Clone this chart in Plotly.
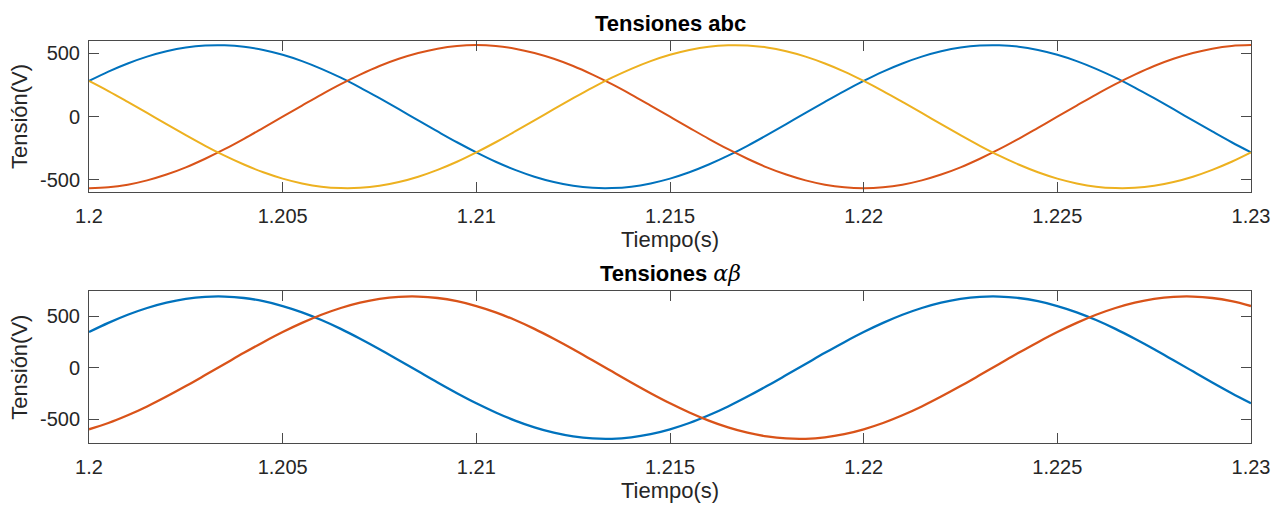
import plotly.graph_objects as go

# time samples (s), every 0.5 ms from 1.2 to 1.23
t = [round(1.2 + 0.0005 * k, 4) for k in range(61)]

# Tensiones abc (V)
va = [282, 356, 420, 474, 516, 546, 562, 564, 553, 527, 489, 439, 378, 308, 230, 146, 59, -30, -117, -202,
      -282, -356, -420, -474, -516, -546, -562, -564, -553, -527, -489, -439, -378, -308, -230, -146, -59, 30, 117, 202,
      282, 356, 420, 474, 516, 546, 562, 564, 553, 527, 489, 439, 378, 308, 230, 146, 59, -30, -117, -202, -282]
vb = [-565, -558, -537, -503, -457, -400, -332, -257, -175, -88,
      0, 88, 175, 257, 332, 400, 457, 503, 537, 558,
      565, 558, 537, 503, 457, 400, 332, 257, 175, 88,
      0, -88, -175, -257, -332, -400, -457, -503, -537, -558,
      -565, -558, -537, -503, -457, -400, -332, -257, -175, -88,
      0, 88, 175, 257, 332, 400, 457, 503, 537, 558, 565]
vc = [282, 202, 117, 30, -59, -146, -230, -308, -378, -439, -489, -527, -553, -564, -562, -546, -516, -474, -420, -356,
      -282, -202, -117, -30, 59, 146, 230, 308, 378, 439, 489, 527, 553, 564, 562, 546, 516, 474, 420, 356,
      282, 202, 117, 30, -59, -146, -230, -308, -378, -439, -489, -527, -553, -564, -562, -546, -516, -474, -420, -356, -282]

# Tensiones alpha-beta (V)
valpha = [346, 435, 514, 580, 632, 668, 688, 691, 677, 646, 599, 538, 463, 377, 281, 179, 72, -36, -144, -248,
          -346, -435, -514, -580, -632, -668, -688, -691, -677, -646, -599, -538, -463, -377, -281, -179, -72, 36, 144, 248,
          346, 435, 514, 580, 632, 668, 688, 691, 677, 646, 599, 538, 463, 377, 281, 179, 72, -36, -144, -248, -346]
vbeta = [-599, -538, -463, -377, -281, -179, -72, 36, 144, 248,
         346, 435, 514, 580, 632, 668, 688, 691, 677, 646, 599, 538, 463, 377, 281, 179, 72, -36, -144, -248,
         -346, -435, -514, -580, -632, -668, -688, -691, -677, -646, -599, -538, -463, -377, -281, -179, -72, 36, 144, 248,
         346, 435, 514, 580, 632, 668, 688, 691, 677, 646, 599]

xticks = [1.2, 1.205, 1.21, 1.215, 1.22, 1.225, 1.23]
xticktext = ["1.2", "1.205", "1.21", "1.215", "1.22", "1.225", "1.23"]
yticks = [-500, 0, 500]
yticktext = ["-500", "0", "500"]

C1, C2, C3 = "#0072BD", "#D95319", "#EDB120"
FONT = "Liberation Sans, Arial, Helvetica, sans-serif"
TXT = "#262626"
AX = "#4a4a4a"

fig = go.Figure()
for y, c in [(va, C1), (vb, C2), (vc, C3)]:
    fig.add_trace(go.Scatter(x=t, y=y, mode="lines", line=dict(color=c, width=2, shape="spline"),
                             xaxis="x", yaxis="y", showlegend=False, hoverinfo="skip"))
for y, c in [(valpha, C1), (vbeta, C2)]:
    fig.add_trace(go.Scatter(x=t, y=y, mode="lines", line=dict(color=c, width=2.3, shape="spline"),
                             xaxis="x2", yaxis="y2", showlegend=False, hoverinfo="skip"))

axis_common = dict(showline=True, linecolor=AX, linewidth=1, mirror="ticks", ticks="inside",
                   ticklen=10, tickcolor=AX, tickwidth=1, showgrid=False, zeroline=False,
                   tickfont=dict(family=FONT, size=20, color=TXT))

xa = dict(axis_common, range=[1.2, 1.23], tickvals=xticks, ticktext=xticktext,
          ticklabelstandoff=6,
          title=dict(text="Tiempo(s)", font=dict(family=FONT, size=22, color=TXT), standoff=4))
ya = dict(axis_common, tickvals=yticks, ticktext=yticktext, ticklabelstandoff=4,
          title=dict(text="Tensión(V)", font=dict(family=FONT, size=22, color=TXT), standoff=6))

fig.update_layout(
    width=1273, height=506,
    margin=dict(l=89, r=22, t=0, b=0),
    paper_bgcolor="white", plot_bgcolor="white",
    xaxis=dict(xa, domain=[0, 1], anchor="y"),
    yaxis=dict(ya, domain=[0.620, 0.9196], range=[-597, 600], anchor="x"),
    xaxis2=dict(xa, domain=[0, 1], anchor="y2"),
    yaxis2=dict(ya, domain=[0.1239, 0.4249], range=[-735, 745], anchor="x2"),
    annotations=[
        dict(text="<b>Tensiones abc</b>", xref="paper", yref="paper", x=0.5, y=0.9196,
             yanchor="bottom", yshift=3, showarrow=False,
             font=dict(family=FONT, size=22, color="black")),
        dict(text="<b>Tensiones </b><span style='font-family:DejaVu Serif;font-style:italic'>αβ</span>",
             xref="paper", yref="paper", x=0.5, y=0.4249,
             yanchor="bottom", yshift=3, showarrow=False,
             font=dict(family=FONT, size=22, color="black")),
    ],
)

fig.write_html("out.html")
